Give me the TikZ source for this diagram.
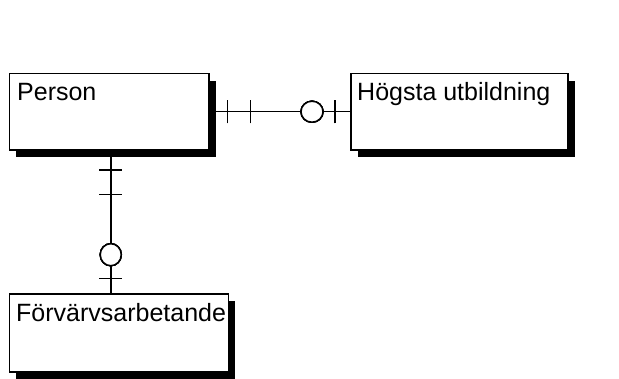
\documentclass[tikz,border=0pt]{standalone}
\usepackage{fontspec}
\setmainfont{Liberation Sans}
\usetikzlibrary{shadows,decorations.markings}
\begin{document}
\begin{tikzpicture}[x=1pt,y=-1pt,
  entity/.style={draw=black, line width=1.5pt, fill=white, rectangle, anchor=north west, inner sep=0pt,
    drop shadow={opacity=1, fill=black, shadow xshift=7pt, shadow yshift=-7.5pt}},
  etext/.style={anchor=base west, inner sep=0pt, font=\fontsize{25}{29}\selectfont},
  conn/.style={line width=1.5pt},
  bar/.style={decoration={markings, mark=at position #1 with {\draw[line width=1.5pt] (0,-11.5pt) -- (0,11.5pt);}}, postaction=decorate},
  ring/.style={decoration={markings, mark=at position #1 with {\draw[line width=1.5pt, fill=white] (0,0) ellipse (11pt and 10.5pt);}}, postaction=decorate}
]
\useasboundingbox (0,0) rectangle (619,378);
\node[entity, minimum width=199.5pt, minimum height=76.5pt] (person) at (8.5,72.7) {};
\node[entity, minimum width=217pt, minimum height=76.5pt] (hogsta) at (350,72.7) {};
\node[entity, minimum width=219pt, minimum height=78pt] (forv) at (8.5,293) {};
\node[etext] (tperson) at (17,100.7) {Person};
\node[etext] (thogsta) at (357,100) {Högsta utbildning};
\node[etext] (tforv) at (16,321.7) {Förvärvsarbetande};
% horizontal connector
\draw[conn, bar=18pt, bar=41pt, ring=102.5pt, bar=125.3pt] (person.east) -- (hogsta.west);
% vertical connector
\coordinate (vtop) at ([xshift=1.75pt]person.south);
\draw[conn, bar=19.3pt, bar=43.7pt, ring=104pt, bar=127.7pt] (vtop) -- (vtop |- forv.north);
\end{tikzpicture}
\end{document}
